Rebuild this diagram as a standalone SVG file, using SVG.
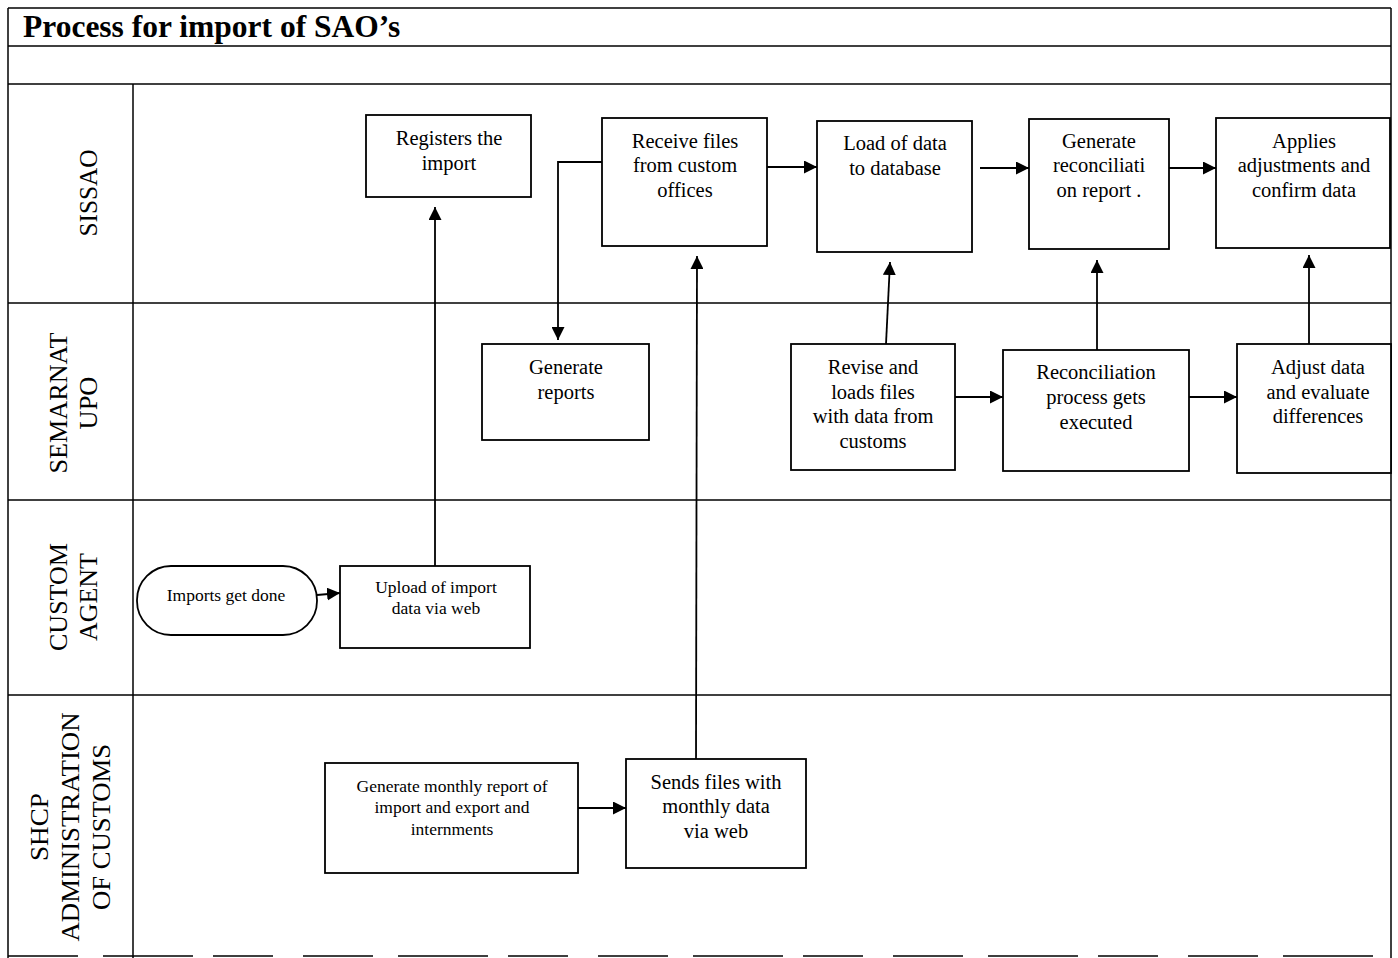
<svg xmlns="http://www.w3.org/2000/svg" width="1398" height="958" viewBox="0 0 1398 958">
<style>
.frame{stroke:#000;stroke-width:1.5;fill:none}
.box{fill:#fff;stroke:#000;stroke-width:1.8}
.t{font-family:"Liberation Serif","Times New Roman",serif;font-size:20.5px;fill:#000;text-anchor:middle}
.s{font-family:"Liberation Serif","Times New Roman",serif;font-size:17.5px;fill:#000;text-anchor:middle}
.lane{font-family:"Liberation Serif","Times New Roman",serif;font-size:25px;fill:#000;text-anchor:middle}
.title{font-family:"Liberation Serif","Times New Roman",serif;font-size:31.5px;font-weight:bold;fill:#000}
.c{stroke:#000;stroke-width:1.8;fill:none}
</style>
<defs>
<marker id="ah" viewBox="0 0 10 10" refX="10" refY="5" markerWidth="13" markerHeight="13" markerUnits="userSpaceOnUse" orient="auto">
<path d="M0,0 L10,5 L0,10 z" fill="#000"/>
</marker>
</defs>
<rect width="1398" height="958" fill="#fff"/>
<g id="frame">
<line class="frame" x1="8" y1="8" x2="1391" y2="8"/>
<line class="frame" x1="8" y1="8" x2="8" y2="958"/>
<line class="frame" x1="1391" y1="8" x2="1391" y2="958"/>
<line class="frame" x1="8" y1="46" x2="1391" y2="46"/>
<line class="frame" x1="8" y1="84" x2="1391" y2="84"/>
<line class="frame" x1="133" y1="84" x2="133" y2="958"/>
<line class="frame" x1="8" y1="303" x2="1391" y2="303"/>
<line class="frame" x1="8" y1="500" x2="1391" y2="500"/>
<line class="frame" x1="8" y1="695" x2="1391" y2="695"/>
<line class="frame" x1="8" y1="956" x2="1391" y2="956" stroke-dasharray="70 25 90 20 60 30"/>
<text class="title" x="23" y="37">Process for import of SAO’s</text>
</g>
<g id="lanes">
<text class="lane" transform="translate(97,193) rotate(-90)" textLength="87" lengthAdjust="spacingAndGlyphs">SISSAO</text>
<text class="lane" transform="translate(67,403) rotate(-90)" textLength="141" lengthAdjust="spacingAndGlyphs">SEMARNAT</text>
<text class="lane" transform="translate(97,403) rotate(-90)" textLength="53" lengthAdjust="spacingAndGlyphs">UPO</text>
<text class="lane" transform="translate(67,597) rotate(-90)" textLength="108" lengthAdjust="spacingAndGlyphs">CUSTOM</text>
<text class="lane" transform="translate(97,597) rotate(-90)" textLength="88" lengthAdjust="spacingAndGlyphs">AGENT</text>
<text class="lane" transform="translate(48,827) rotate(-90)" textLength="68" lengthAdjust="spacingAndGlyphs">SHCP</text>
<text class="lane" transform="translate(79,827) rotate(-90)" textLength="229" lengthAdjust="spacingAndGlyphs">ADMINISTRATION</text>
<text class="lane" transform="translate(110,827) rotate(-90)" textLength="166" lengthAdjust="spacingAndGlyphs">OF CUSTOMS</text>
</g>
<g id="connectors">
<line class="c" x1="317" y1="595" x2="340" y2="593" marker-end="url(#ah)"/>
<line class="c" x1="435" y1="566" x2="435" y2="207" marker-end="url(#ah)"/>
<polyline class="c" points="602,162 558,162 558,340" marker-end="url(#ah)"/>
<line class="c" x1="696" y1="759" x2="697" y2="256" marker-end="url(#ah)"/>
<line class="c" x1="767" y1="167" x2="817" y2="167" marker-end="url(#ah)"/>
<line class="c" x1="980" y1="168" x2="1029" y2="168" marker-end="url(#ah)"/>
<line class="c" x1="1169" y1="168" x2="1216" y2="168" marker-end="url(#ah)"/>
<line class="c" x1="886" y1="344" x2="890" y2="262" marker-end="url(#ah)"/>
<line class="c" x1="1097" y1="350" x2="1097" y2="260" marker-end="url(#ah)"/>
<line class="c" x1="1309" y1="344" x2="1309" y2="255" marker-end="url(#ah)"/>
<line class="c" x1="955" y1="397" x2="1003" y2="397" marker-end="url(#ah)"/>
<line class="c" x1="1189" y1="397" x2="1237" y2="397" marker-end="url(#ah)"/>
<line class="c" x1="578" y1="808" x2="626" y2="808" marker-end="url(#ah)"/>
</g>
<g id="n-registers">
<rect class="box" x="366" y="115" width="165" height="82"/>
<text class="t" x="449" y="145">Registers the</text>
<text class="t" x="449" y="170">import</text>
</g>
<g id="n-receive">
<rect class="box" x="602" y="118" width="165" height="128"/>
<text class="t" x="685" y="148">Receive files</text>
<text class="t" x="685" y="172">from custom</text>
<text class="t" x="685" y="197">offices</text>
</g>
<g id="n-load">
<rect class="box" x="817" y="121" width="155" height="131"/>
<text class="t" x="895" y="150">Load of data</text>
<text class="t" x="895" y="175">to database</text>
</g>
<g id="n-genrecon">
<rect class="box" x="1029" y="119" width="140" height="130"/>
<text class="t" x="1099" y="148">Generate</text>
<text class="t" x="1099" y="172">reconciliati</text>
<text class="t" x="1099" y="197">on report .</text>
</g>
<g id="n-applies">
<rect class="box" x="1216" y="118" width="174" height="130"/>
<text class="t" x="1304" y="148">Applies</text>
<text class="t" x="1304" y="172">adjustments and</text>
<text class="t" x="1304" y="197">confirm data</text>
</g>
<g id="n-genreports">
<rect class="box" x="482" y="344" width="167" height="96"/>
<text class="t" x="566" y="374">Generate</text>
<text class="t" x="566" y="399">reports</text>
</g>
<g id="n-revise">
<rect class="box" x="791" y="344" width="164" height="126"/>
<text class="t" x="873" y="374">Revise and</text>
<text class="t" x="873" y="399">loads files</text>
<text class="t" x="873" y="423">with data from</text>
<text class="t" x="873" y="448">customs</text>
</g>
<g id="n-reconproc">
<rect class="box" x="1003" y="350" width="186" height="121"/>
<text class="t" x="1096" y="379">Reconciliation</text>
<text class="t" x="1096" y="404">process gets</text>
<text class="t" x="1096" y="429">executed</text>
</g>
<g id="n-adjust">
<rect class="box" x="1237" y="344" width="154" height="129"/>
<text class="t" x="1318" y="374">Adjust data</text>
<text class="t" x="1318" y="399">and evaluate</text>
<text class="t" x="1318" y="423">differences</text>
</g>
<g id="n-imports">
<rect class="box" x="137" y="566" width="180" height="69" rx="34" ry="34"/>
<text class="s" x="226" y="601">Imports get done</text>
</g>
<g id="n-upload">
<rect class="box" x="340" y="566" width="190" height="82"/>
<text class="s" x="436" y="593">Upload of import</text>
<text class="s" x="436" y="614">data via web</text>
</g>
<g id="n-monthly">
<rect class="box" x="325" y="763" width="253" height="110"/>
<text class="s" x="452" y="792">Generate monthly report of</text>
<text class="s" x="452" y="813">import and export and</text>
<text class="s" x="452" y="835">internments</text>
</g>
<g id="n-sends">
<rect class="box" x="626" y="759" width="180" height="109"/>
<text class="t" x="716" y="789">Sends files with</text>
<text class="t" x="716" y="813">monthly data</text>
<text class="t" x="716" y="838">via web</text>
</g>
</svg>
